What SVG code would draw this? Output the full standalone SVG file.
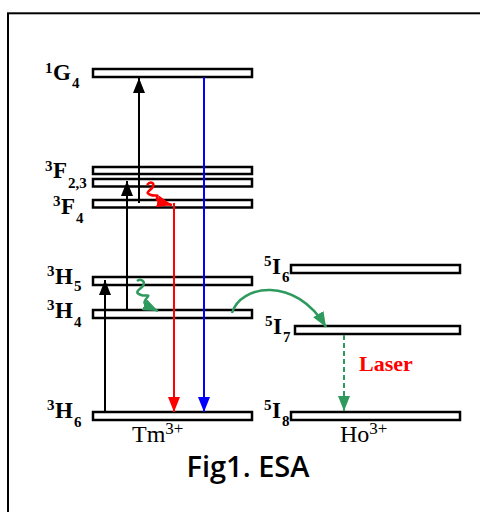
<svg xmlns="http://www.w3.org/2000/svg" width="480" height="512" viewBox="0 0 480 512">
<style>
.lvl{fill:#fff;stroke:#000;stroke-width:2.5}
.lb{font-family:"Liberation Serif",serif;font-weight:bold;fill:#000}
.big{font-size:23px}
.sm{font-size:15px}
.ion{font-family:"Liberation Serif",serif;font-size:24px;fill:#000}
.k{stroke:#000;stroke-width:2;fill:none}
</style>
<defs>
<marker id="ak" markerUnits="userSpaceOnUse" markerWidth="15" markerHeight="12" viewBox="0 0 15 12" refX="15" refY="6" orient="auto"><path d="M0,0 L15,6 L0,12 Z" fill="#000"/></marker>
<marker id="ar" markerUnits="userSpaceOnUse" markerWidth="15" markerHeight="12" viewBox="0 0 15 12" refX="15" refY="6" orient="auto"><path d="M0,0 L15,6 L0,12 Z" fill="#f00"/></marker>
<marker id="ab" markerUnits="userSpaceOnUse" markerWidth="15" markerHeight="12" viewBox="0 0 15 12" refX="15" refY="6" orient="auto"><path d="M0,0 L15,6 L0,12 Z" fill="#00f"/></marker>
<marker id="ag" markerUnits="userSpaceOnUse" markerWidth="15" markerHeight="12" viewBox="0 0 15 12" refX="15" refY="6" orient="auto"><path d="M0,0 L15,6 L0,12 Z" fill="#2e9a5e"/></marker>
</defs>
<rect x="8" y="13.3" width="520" height="540" fill="none" stroke="#000" stroke-width="2"/>
<g id="G4"><rect class="lvl" x="93" y="69" width="159" height="8"/>
<text class="lb sm" x="45" y="73">1</text><text class="lb big" x="53" y="80">G</text><text class="lb sm" x="72" y="88">4</text></g>
<g id="F23"><rect class="lvl" x="93" y="167" width="159" height="7"/><rect class="lvl" x="93" y="179" width="159" height="7.5"/>
<text class="lb sm" x="45" y="171">3</text><text class="lb big" x="53" y="178">F</text><text class="lb sm" x="68" y="188">2,3</text></g>
<g id="F4"><rect class="lvl" x="93" y="200" width="159" height="7.5"/>
<text class="lb sm" x="53" y="206">3</text><text class="lb big" x="61" y="214">F</text><text class="lb sm" x="76" y="223">4</text></g>
<g id="H5"><rect class="lvl" x="93" y="277" width="159" height="8"/>
<text class="lb sm" x="47" y="276">3</text><text class="lb big" x="55" y="284">H</text><text class="lb sm" x="74" y="291">5</text></g>
<g id="H4"><rect class="lvl" x="93" y="310" width="159" height="8"/>
<text class="lb sm" x="47" y="310">3</text><text class="lb big" x="55" y="318">H</text><text class="lb sm" x="74" y="327">4</text></g>
<g id="H6"><rect class="lvl" x="93" y="412" width="159" height="8"/>
<text class="lb sm" x="47" y="410">3</text><text class="lb big" x="55" y="418">H</text><text class="lb sm" x="74" y="427">6</text></g>
<g id="I6"><rect class="lvl" x="291" y="265" width="169" height="8"/>
<text class="lb sm" x="264" y="266">5</text><text class="lb big" x="272" y="274">I</text><text class="lb sm" x="282" y="282">6</text></g>
<g id="I7"><rect class="lvl" x="295" y="326" width="165" height="8"/>
<text class="lb sm" x="265" y="326">5</text><text class="lb big" x="273" y="334">I</text><text class="lb sm" x="283" y="342">7</text></g>
<g id="I8"><rect class="lvl" x="291" y="412" width="169" height="8"/>
<text class="lb sm" x="264" y="410">5</text><text class="lb big" x="272" y="418">I</text><text class="lb sm" x="282" y="426">8</text></g>
<g id="ions">
<text class="ion" x="132" y="442">Tm<tspan font-size="17" dy="-8">3+</tspan></text>
<text class="ion" x="340" y="442">Ho<tspan font-size="17" dy="-8">3+</tspan></text>
<text x="359" y="371" font-family="'Liberation Serif',serif" font-weight="bold" font-size="22" fill="#f00">Laser</text>
<text x="248" y="477" text-anchor="middle" font-family="'Open Sans',sans-serif" font-weight="600" font-size="29" fill="#000">Fig1. ESA</text>
</g>
<g id="connectors">
<line class="k" x1="105" y1="412" x2="105" y2="280" marker-end="url(#ak)"/>
<line class="k" x1="127" y1="311" x2="127" y2="181" marker-end="url(#ak)"/>
<line class="k" x1="139" y1="203" x2="139" y2="78" marker-end="url(#ak)"/>
<line x1="174" y1="203" x2="174" y2="412" stroke="#f00" stroke-width="2" marker-end="url(#ar)"/>
<line x1="204" y1="77" x2="204" y2="412" stroke="#00f" stroke-width="2" marker-end="url(#ab)"/>
<path d="M147,185 C151,180 156,184 152,188 C148,192 145,193 151,195 C156,197 159,193 157,198 C156,201 160,202 172,205" fill="none" stroke="#f00" stroke-width="2.5" marker-end="url(#ar)"/>
<path d="M137,281 C141,278 147,282 142,287 C137,291 135,293 141,295 C147,297 151,293 146,299 C142,304 145,305 158,311" fill="none" stroke="#2e9a5e" stroke-width="2.5" marker-end="url(#ag)"/>
<path d="M232,313 C240,285 295,275 326,327" fill="none" stroke="#2e9a5e" stroke-width="2.5" marker-end="url(#ag)"/>
<line x1="344" y1="335" x2="344" y2="411" stroke="#2e9a5e" stroke-width="2" stroke-dasharray="5,3" marker-end="url(#ag)"/>
</g>
</svg>
